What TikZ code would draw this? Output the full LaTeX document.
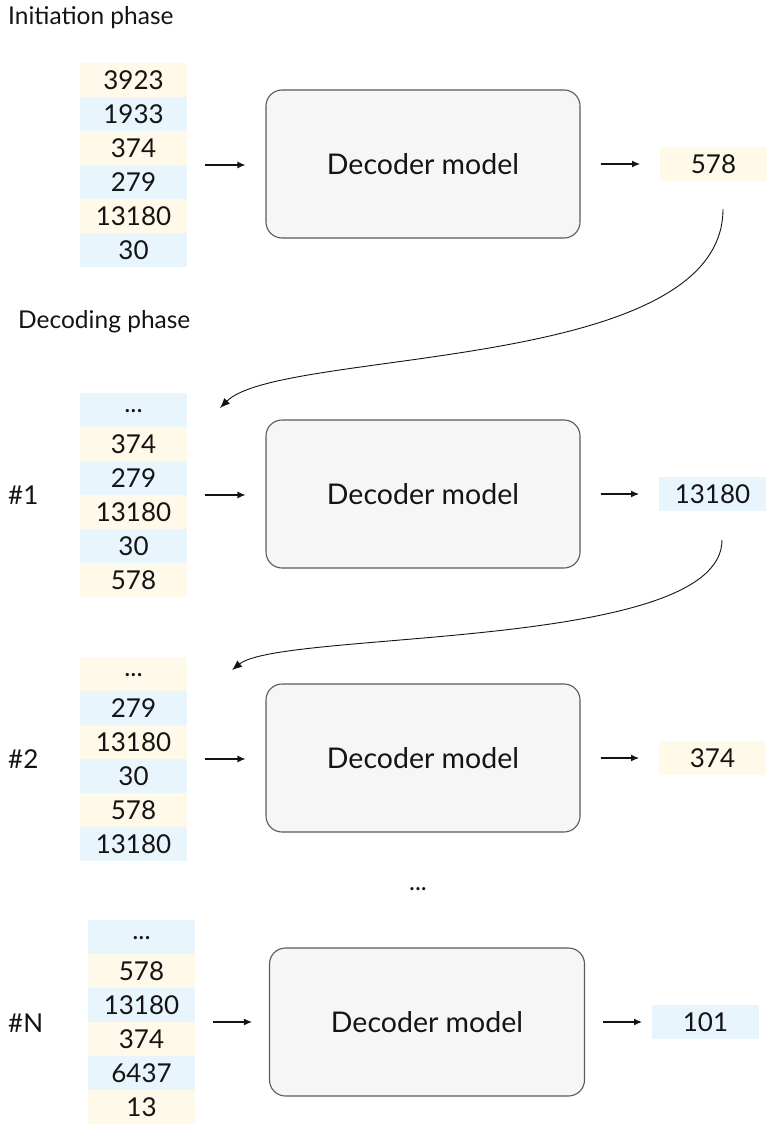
\documentclass[tikz,border=0pt]{standalone}
\usepackage{fontspec}
\setmainfont{Lato}
\usetikzlibrary{arrows.meta}
\definecolor{tokY}{HTML}{FEF9E8}
\definecolor{tokB}{HTML}{E9F5FD}
\definecolor{boxF}{HTML}{F6F6F6}
\definecolor{boxD}{HTML}{5A5A5A}
\definecolor{ink}{HTML}{141414}
\begin{document}
\begin{tikzpicture}[x=1pt,y=-1pt,
 tok/.style={minimum width=107pt,minimum height=34pt,inner sep=0pt,outer sep=0pt,text height=19pt,text depth=0pt,font=\fontsize{26}{30}\selectfont,text=ink},
 ty/.style={tok,fill=tokY}, tb/.style={tok,fill=tokB},
 dots/.style={text height=4pt,text depth=0pt},
 dec/.style={draw=boxD,fill=boxF,line width=1.1pt,rounded corners=16pt,minimum width=314pt,minimum height=148pt,inner sep=0pt,font=\fontsize{28.5}{32}\selectfont,text=ink},
 arr/.style={-{Latex[length=8pt,width=7pt]},line width=1.1pt,draw=ink},
 carr/.style={-{Latex[length=10pt,width=8pt]},line width=0.9pt,draw=ink},
 lbl/.style={font=\fontsize{26}{30}\selectfont,text=ink,anchor=west,inner sep=0pt},
 ttl/.style={font=\fontsize{24.5}{28}\selectfont,text=ink,anchor=west,inner sep=0pt}]
\useasboundingbox[fill=white] (0,0) rectangle (781,1129);

% titles
\node[ttl] (t1) at (8,18) {Initiation phase};
\node[ttl] (t2) at (18,322) {Decoding phase};

% block 1
\node[ty] (a1) at (133.5,80) {3923};
\node[tb] (a2) at (133.5,114) {1933};
\node[ty] (a3) at (133.5,148) {374};
\node[tb] (a4) at (133.5,182) {279};
\node[ty] (a5) at (133.5,216) {13180};
\node[tb] (a6) at (133.5,250) {30};
\node[dec] (D1) at (423,164) {Decoder model};
\node[ty] (o1) at (713.5,164) {578};

% block 2
\node[lbl] (n1) at (8,495) {\#1};
\node[tb,dots] (b1) at (133.5,410) {...};
\node[ty] (b2) at (133.5,444) {374};
\node[tb] (b3) at (133.5,478) {279};
\node[ty] (b4) at (133.5,512) {13180};
\node[tb] (b5) at (133.5,546) {30};
\node[ty] (b6) at (133.5,580) {578};
\node[dec] (D2) at (423,494) {Decoder model};
\node[tb] (o2) at (712.5,494) {13180};

% block 3
\node[lbl] (n2) at (8,759) {\#2};
\node[ty,dots] (c1) at (133.5,674) {...};
\node[tb] (c2) at (133.5,708) {279};
\node[ty] (c3) at (133.5,742) {13180};
\node[tb] (c4) at (133.5,776) {30};
\node[ty] (c5) at (133.5,810) {578};
\node[tb] (c6) at (133.5,844) {13180};
\node[dec] (D3) at (423,758) {Decoder model};
\node[ty] (o3) at (712.5,758) {374};

\node[font=\fontsize{25}{30}\selectfont,text=ink,text height=4pt,text depth=0pt,inner sep=0pt] (mid) at (418,888) {...};

% block 4
\node[lbl] (n3) at (8,1023) {\#N};
\node[tb,dots] (d1) at (141.5,937) {...};
\node[ty] (d2) at (141.5,971) {578};
\node[tb] (d3) at (141.5,1005) {13180};
\node[ty] (d4) at (141.5,1039) {374};
\node[tb] (d5) at (141.5,1073) {6437};
\node[ty] (d6) at (141.5,1107) {13};
\node[dec,minimum width=315pt] (D4) at (427,1022) {Decoder model};
\node[tb] (o4) at (705.5,1022) {101};

% straight arrows
\draw[arr,shorten <=18pt,shorten >=20pt] (a3.south east) -- (a3.south east -| D1.west);
\draw[arr,shorten <=18pt,shorten >=20pt] (b3.south east) -- (b3.south east -| D2.west);
\draw[arr,shorten <=18pt,shorten >=20pt] (c3.south east) -- (c3.south east -| D3.west);
\draw[arr,shorten <=18pt,shorten >=17pt] (d3.south east) -- (d3.south east -| D4.west);
\draw[arr,shorten <=20pt,shorten >=20pt] (D1.east) -- (o1.west);
\draw[arr,shorten <=20pt,shorten >=20pt] (D2.east) -- (o2.west);
\draw[arr,shorten <=20pt,shorten >=20pt] (D3.east) -- (o3.west);
\draw[arr,shorten <=17.5pt,shorten >=10pt] (D4.east) -- (o4.west);

% curved feedback arrows
\coordinate (s1) at (723,209);
\coordinate (e1) at (220,408);
\coordinate (s2) at (722,540);
\coordinate (e2) at (232,670);
\draw[carr] (s1) .. controls (723,374) and (280,348) .. (e1);
\draw[carr] (s2) .. controls (722,651) and (282,630) .. (e2);
\end{tikzpicture}
\end{document}
